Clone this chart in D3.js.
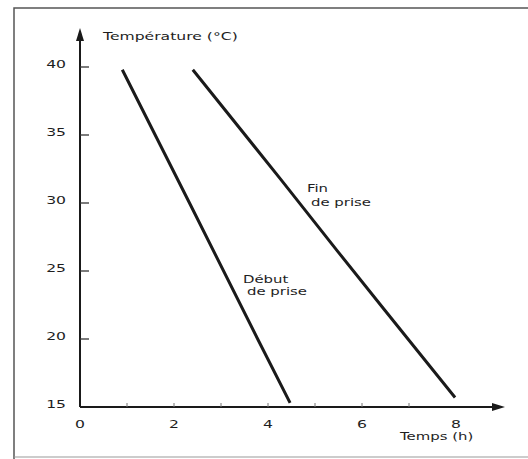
<!DOCTYPE html>
<html lang="fr">
<head>
<meta charset="UTF-8">
<title>Température et temps de prise</title>
<script src="https://d3js.org/d3.v7.min.js"></script>
<style>
  body { margin: 0; background: #fff; }
  svg { display: block; }
  text { font-family: "DejaVu Sans", sans-serif; fill: #1e1e1e; }
</style>
</head>
<body>
<svg id="chart" width="528" height="459"></svg>
<script>
// données
const hourLabels = [0, 2, 4, 6, 8];
const hourTicks = [1, 2, 3, 4, 5, 6, 7];
const tempTicks = [15, 20, 25, 30, 35, 40];

const debutHours = [0.9, 2.33, 3.78, 4.47];
const debutTemps = [39.8, 30, 20, 15.3];
const finHours = [2.4, 4.28, 5.47, 6.49, 7.98];
const finTemps = [39.8, 31.7, 26.5, 22.1, 15.7];

const svg = d3.select("#chart");
const sx = 1.42; // le scan est étiré horizontalement

const x = d3.scaleLinear().domain([0, 8]).range([80, 456]);
const y = d3.scaleLinear().domain([15, 40]).range([407, 67]);

// cadre du scan
svg.append("path")
    .attr("d", "M14,459 L14,8 L528,8")
    .attr("fill", "none").attr("stroke", "#555").attr("stroke-width", 1.5);
svg.append("line")
    .attr("x1", 14).attr("x2", 528).attr("y1", 457).attr("y2", 457)
    .attr("stroke", "#999").attr("stroke-width", 1.2);

function label(px, py, txt, anchor, size) {
    svg.append("text")
        .attr("transform", `translate(${px},${py}) scale(${sx},1)`)
        .attr("text-anchor", anchor || "start")
        .attr("font-size", size || 11)
        .text(txt);
}

// axes
const x0 = x(0), yb = y(15);
svg.append("line").attr("x1", x0).attr("x2", x0).attr("y1", yb).attr("y2", 36)
    .attr("stroke", "#1a1a1a").attr("stroke-width", 2);
svg.append("path").attr("d", `M${x0},28 L${x0 - 4},41 L${x0 + 4},41 Z`).attr("fill", "#1a1a1a");
svg.append("line").attr("x1", x0).attr("x2", 496).attr("y1", yb).attr("y2", yb)
    .attr("stroke", "#1a1a1a").attr("stroke-width", 2);
svg.append("path").attr("d", `M505,${yb} L492,${yb - 4} L492,${yb + 4} Z`).attr("fill", "#1a1a1a");

// graduations
svg.append("g").selectAll("line").data(tempTicks.filter(d => d > 15)).join("line")
    .attr("x1", x0).attr("x2", x0 + 9)
    .attr("y1", d => y(d)).attr("y2", d => y(d))
    .attr("stroke", "#333").attr("stroke-width", 1.3);
svg.append("g").selectAll("line").data(hourTicks).join("line")
    .attr("x1", d => x(d)).attr("x2", d => x(d))
    .attr("y1", yb - 4).attr("y2", yb)
    .attr("stroke", "#777").attr("stroke-width", 1);

tempTicks.forEach(t => label(66, y(t) + 1, t, "end"));
hourLabels.forEach(h => label(x(h), yb + 21, h, "middle"));

label(103, 40, "Température (°C)", "start");
label(400, 440, "Temps (h)", "start", 10.5);

// courbes
const line = d3.line().x(d => x(d[0])).y(d => y(d[1]));
[[debutHours, debutTemps], [finHours, finTemps]].forEach(([hs, ts]) => {
    svg.append("path")
        .datum(hs.map((h, i) => [h, ts[i]]))
        .attr("d", line)
        .attr("fill", "none")
        .attr("stroke", "#1a1a1a")
        .attr("stroke-width", 3);
});

label(307, 192, "Fin", "start", 10.5);
label(311, 206, "de prise", "start", 10.5);
label(243, 283, "Début", "start", 10.5);
label(247, 295, "de prise", "start", 10.5);
</script>
</body>
</html>
